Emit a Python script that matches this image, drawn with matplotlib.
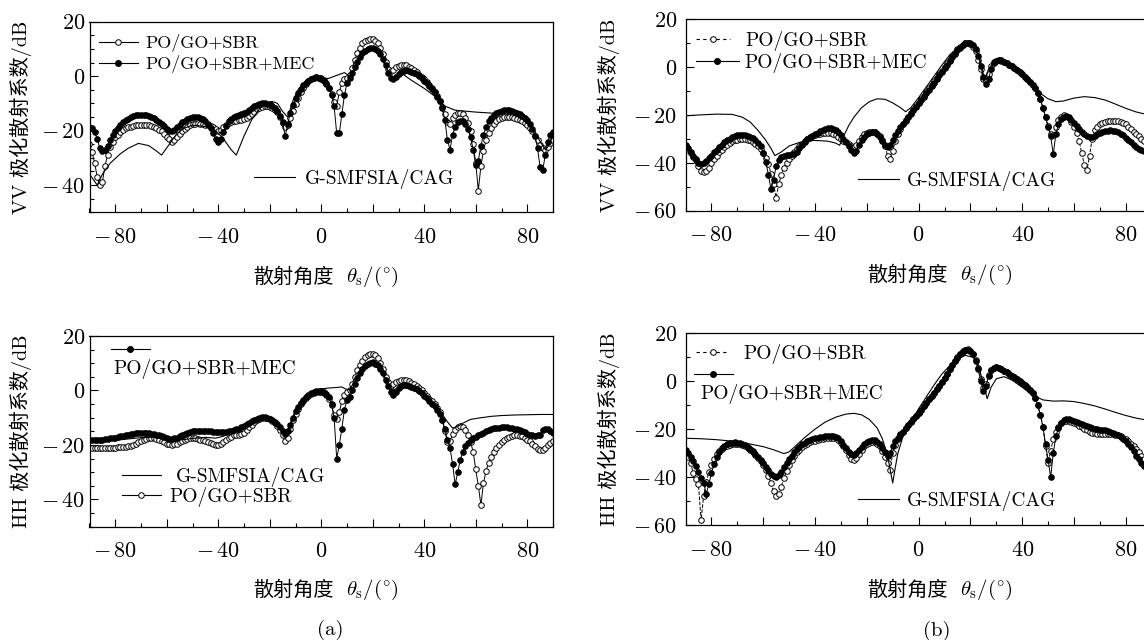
import numpy as np
import matplotlib
matplotlib.use("Agg")
import matplotlib.pyplot as plt
from matplotlib.lines import Line2D
from matplotlib.legend import Legend
from matplotlib.ticker import MultipleLocator, FuncFormatter

plt.rcParams['font.family'] = ['cmr10', 'Noto Sans CJK SC']
plt.rcParams['mathtext.fontset'] = 'cm'

# scattering angle, 1 degree steps
theta = np.arange(-90, 91)

# (a) VV : PO/GO+SBR (open) and PO/GO+SBR+MEC (filled)
vv_a_sbr = [
    -25, -28, -32, -37, -40, -39, -33, -29, -26, -24,
    -22.5, -21.5, -20.5, -19.8, -19.2, -18.8, -18.5, -18.2, -18, -17.9,
    -17.8, -17.8, -17.8, -18, -18.2, -18.5, -19, -19.6, -20.3, -21.2,
    -22.2, -23.2, -24, -23.5, -22.5, -21.3, -20.2, -19.3, -18.6, -18,
    -17.6, -17.4, -17.3, -17.4, -17.6, -17.9, -18.1, -18.3, -18.6, -19.3,
    -20.3, -19.6, -18.6, -17.8, -17.3, -16.8, -16.5, -16.3, -16.2, -16,
    -15.6, -15.2, -14.6, -13.8, -13, -12.2, -11.6, -11.2, -11, -11,
    -11.2, -11.6, -12.3, -13.3, -15, -17.2, -18.8, -18, -15.5, -12.8,
    -10.2, -8, -6, -4.4, -3, -1.9, -1.1, -0.6, -0.4, -0.5,
    -0.8, -1.5, -2.6, -4.2, -6.5, -9.5, -11, -6, -2.5, -1.2,
    -0.8, 0.5, 3, 6, 8.5, 10.5, 12, 12.9, 13.4, 13.6,
    13.5, 13, 12, 10.4, 8, 5.2, 2.8, 1.8, 2.4, 3.3,
    3.9, 4.2, 4.2, 4, 3.5, 2.9, 2.2, 1.4, 0.6, -0.3,
    -1.2, -2.2, -3.3, -4.5, -5.8, -7.3, -9, -11.2, -14, -17,
    -17.5, -15.5, -14.2, -13.5, -13.4, -14, -15.2, -17.2, -20.3, -25,
    -32, -42, -33, -27.5, -23.5, -20.8, -18.9, -17.6, -16.6, -15.9,
    -15.4, -15.1, -15, -15, -15.1, -15.3, -15.6, -16, -16.6, -17.3,
    -18.1, -19.1, -20.3, -21.8, -23.5, -25.2, -26.5, -27, -26, -24.5,
    -23.5]
vv_a_mec = [
    -18.5, -19, -20.5, -23, -26.5, -27.5, -27, -25.5, -23.5, -21.7,
    -20.2, -19, -17.9, -17, -16.2, -15.6, -15.1, -14.7, -14.4, -14.2,
    -14.1, -14.1, -14.2, -14.5, -14.9, -15.4, -16, -16.7, -17.5, -18.4,
    -19.3, -20, -20.2, -19.6, -18.7, -17.8, -17, -16.3, -15.8, -15.4,
    -15.1, -15, -15.1, -15.4, -15.9, -16.6, -17.6, -19, -20.8, -23,
    -24.2, -23, -20.5, -18.2, -16.6, -15.6, -15, -14.6, -14.3, -14,
    -13.6, -13, -12.3, -11.6, -11, -10.5, -10.2, -10, -10, -10.1,
    -10.4, -10.9, -11.7, -12.8, -14.5, -17, -22, -17.5, -13.5, -10.5,
    -8.2, -6.3, -4.7, -3.4, -2.4, -1.6, -1, -0.6, -0.4, -0.5,
    -0.9, -1.6, -2.7, -4.3, -7, -11, -21, -21, -14, -7,
    -2.5, -0.5, 1.3, 3.3, 5.3, 7, 8.4, 9.4, 10.1, 10.4,
    10.4, 10.1, 9.4, 8.2, 6.4, 4, 1.3, -0.8, -1.2, -0.2,
    0.9, 1.6, 2, 2.1, 2, 1.7, 1.2, 0.7, 0, -0.8,
    -1.7, -2.6, -3.6, -4.7, -6, -7.5, -9.3, -11.8, -16, -23.5,
    -27, -21.5, -18.5, -17, -16.4, -16.6, -17.6, -19.5, -22.5, -27,
    -32.5, -31, -25.5, -21.5, -18.6, -16.6, -15.2, -14.2, -13.5, -13,
    -12.7, -12.5, -12.4, -12.5, -12.7, -13, -13.4, -13.9, -14.5, -15.2,
    -16.2, -17.5, -19.3, -22, -26.5, -33.5, -34.5, -29, -24, -21.5,
    -20.5]
vv_a_cag_x = [-90, -87, -85, -82, -78, -75, -71, -67, -64, -62, -59, -56, -53, -50,
              -45, -41, -38, -35, -33, -30, -27, -24, -21, -19, -17, -15, -13, -11,
              -9, -6, -3, 0, 3, 6, 9, 11, 13, 15, 17, 20, 23, 25, 27, 29, 31, 35,
              40, 45, 48, 52, 60, 70, 74, 78, 82, 85, 87, 88, 90]
vv_a_cag = [-36, -40, -36, -32, -28.5, -26.5, -24.7, -25.5, -27.5, -29, -25, -21, -19, -18,
            -18.5, -20, -23, -27, -29, -22, -16, -12, -9.8, -9.3, -10, -13, -15, -9,
            -5, -2, -0.6, -1, -0.8, 0.3, 1.3, 0, 2, 6, 9, 10.3, 8.5, 4, -1, 0.5, 1.2, -1.5,
            -4.5, -8, -11, -12.5, -13.2, -13.8, -14, -15.5, -19, -24, -27, -26, -22]

# (a) HH
hh_a_sbr = [
    -21, -21.1, -21.2, -21.2, -21.2, -21.2, -21.2, -21.1, -21.1, -21,
    -21, -20.9, -20.8, -20.7, -20.6, -20.5, -20.3, -20, -19.5, -19,
    -18.5, -18.1, -17.8, -17.5, -17.4, -17.5, -17.7, -18, -18.5, -19,
    -19.5, -19.8, -20, -19.8, -19.5, -19, -18.5, -18.1, -17.8, -17.6,
    -17.5, -17.6, -17.8, -18, -18.3, -18.6, -19, -19.4, -19.8, -20,
    -20, -19.6, -19, -18.2, -17.5, -17, -16.5, -16.3, -16.2, -16,
    -15.5, -14.5, -13.5, -12.5, -11.5, -10.8, -10.3, -10, -10, -10.2,
    -10.6, -11.2, -12, -13.1, -14.5, -16.5, -18.5, -17.5, -14, -11,
    -8.5, -6.7, -5, -3.8, -2.8, -2, -1.2, -0.8, -0.5, -0.4,
    -0.4, -0.8, -1.5, -3, -5.5, -9, -10.5, -8, -4, -1.5,
    -0.5, 0.3, 2.5, 5, 7.5, 9.5, 11, 12.2, 13, 13.4,
    13.5, 13, 12, 10.2, 8, 5, 3, 1.5, 2.2, 3,
    3.5, 3.9, 4, 3.8, 3.5, 2.9, 2.2, 1.5, 0.8, 0,
    -1, -2, -3, -4, -5, -6.5, -8, -11, -15, -19,
    -18.5, -16, -14.5, -13.5, -13, -13.3, -14.5, -16.5, -19, -22.5,
    -29, -35, -42, -34, -29.5, -26.5, -24.5, -22.5, -21, -20,
    -19, -18.2, -17.5, -17, -16.7, -16.5, -16.5, -16.6, -16.8, -17.3,
    -18, -18.7, -19.5, -20.5, -21.5, -22, -21.8, -21, -20, -19.2,
    -18.5]
hh_a_mec = [
    -18, -18, -18, -18, -18, -18, -17.9, -17.8, -17.6, -17.4,
    -17.3, -17, -16.8, -16.6, -16.4, -16.2, -16, -15.9, -15.7, -15.6,
    -15.5, -15.5, -15.6, -15.7, -15.8, -16, -16.2, -16.5, -16.8, -17.1,
    -17.5, -17.7, -17.8, -17.6, -17.3, -16.8, -16.3, -15.9, -15.5, -15.2,
    -15, -14.9, -14.8, -14.8, -14.8, -14.8, -14.9, -15, -15.1, -15.2,
    -15.3, -15.3, -15.2, -15.1, -15, -14.8, -14.6, -14.3, -14, -13.5,
    -13, -12.4, -11.8, -11.2, -10.7, -10.3, -10, -9.8, -9.8, -10,
    -10.3, -10.8, -11.5, -12.4, -13.5, -15, -16, -15, -12.5, -10,
    -7.5, -5.9, -4.5, -3.4, -2.5, -1.7, -1, -0.6, -0.3, -0.2,
    -0.2, -0.6, -1.2, -2.5, -5, -10, -25, -20, -14, -7,
    -3.5, -2.5, 0, 2.3, 4.5, 6.3, 8, 9.1, 9.8, 10.1,
    10.3, 9.9, 9.2, 8, 6.5, 4, 1.5, -0.5, -1.5, -0.5,
    1, 1.6, 2, 1.9, 1.8, 1.4, 1, 0.4, -0.3, -1.1,
    -2, -2.9, -3.8, -4.8, -5.8, -7, -8.5, -11, -14, -18,
    -21, -27, -34.5, -30, -25.5, -22.5, -20.5, -19.3, -18.3, -17.6,
    -17, -16.5, -16, -15.5, -15, -14.6, -14.2, -13.9, -13.7, -13.6,
    -13.5, -13.5, -13.5, -13.6, -13.8, -14, -14.3, -14.6, -15, -15.4,
    -15.8, -16.2, -16.5, -16.6, -16.5, -16.3, -14.5, -14.2, -14.3, -14.8,
    -15.5]
hh_a_cag_x = [-90, -85, -80, -75, -70, -65, -60, -55, -50, -45, -41, -38, -35, -32, -29,
              -26, -23, -21, -19, -17, -15, -13.5, -12, -10, -8, -6, -4, -2, 0, 3, 6, 8,
              9.5, 11, 13, 15, 17, 19, 21, 23, 25, 27, 28, 30, 32, 35, 38, 41, 44, 47,
              49, 51, 53, 55, 58, 62, 66, 70, 75, 80, 85, 90]
hh_a_cag = [-18.5, -18.5, -18.3, -17.8, -17.3, -17.2, -17.8, -18.2, -17.6, -17.2, -17.5,
            -16.8, -15.6, -14.6, -13.2, -11.4, -10.1, -10, -10.7, -12.3, -14.5, -15.5,
            -13, -8, -4.8, -2.5, -0.9, 0, 0.6, 0.9, 1.1, 1.3, 0.5, 0.3, 3.5, 6.8, 8.8,
            9.6, 9.5, 7.8, 4.3, 0.8, 0.2, 1, 1.3, 0.6, -1, -3, -5.5, -8.8, -11.5, -13.8,
            -13.2, -12, -10.6, -10, -9.5, -9.2, -9, -8.9, -8.8, -8.8]

# (b) VV
vv_b_sbr = [
    -33, -34.5, -36, -37.5, -39, -41.5, -43.5, -44, -43.5, -42,
    -40, -38.5, -37, -35.7, -34.5, -33.4, -32.5, -31.7, -31, -30.6,
    -30.3, -30.1, -30, -30.1, -30.3, -30.7, -31.3, -32, -33, -34.3,
    -36, -37.8, -40.5, -44.5, -49, -54.5, -49, -45, -42, -40,
    -38.5, -37, -35.5, -34.2, -33, -32, -31, -30.2, -29.5, -29,
    -28.5, -28.1, -27.8, -27.6, -27.5, -27.5, -27.5, -27.8, -28.5, -29.4,
    -30, -30.8, -31.5, -32.3, -33, -33.5, -32.5, -30.8, -29.3, -28.2,
    -27.5, -27.1, -27, -27.3, -28, -29, -30.5, -33, -37, -38.5,
    -35, -31, -28, -26, -24, -22.5, -21, -19.5, -18, -16.5,
    -15, -13.5, -12, -10.5, -9, -7.5, -6, -4.5, -3, -1.5,
    0, 1.5, 3, 4.5, 6, 7.3, 8.5, 9.3, 9.9, 10,
    9.5, 8.5, 6.5, 3, -1, -5, -6, -3, 0.5, 2,
    2.6, 2.8, 2.5, 2, 1.5, 0.9, 0.3, -0.4, -1.2, -2.1,
    -3, -4, -5, -6.2, -7.5, -9, -11, -13.5, -17, -21,
    -24.5, -28, -28.5, -25, -22, -20.8, -20.2, -20.5, -21.5, -23,
    -25, -27.5, -31, -36, -41, -43, -37, -30, -26.5, -25,
    -24, -23.5, -23, -22.7, -22.5, -22.4, -22.5, -22.7, -23, -23.5,
    -24, -25, -26, -27, -28, -29, -30, -31, -31.5, -32,
    -32]
vv_b_mec = [
    -32.5, -34, -35.5, -37, -38.5, -40, -40.5, -40, -39.3, -38.2,
    -37, -35.7, -34.5, -33.4, -32.4, -31.5, -30.6, -29.9, -29.3, -28.9,
    -28.6, -28.4, -28.4, -28.5, -28.8, -29.2, -29.8, -30.6, -31.6, -33,
    -36, -39.5, -45, -51, -47, -41.5, -38.8, -37.6, -37, -36.8,
    -36.7, -36.5, -36.2, -35.5, -34, -32.5, -31.2, -30.2, -29.4, -28.7,
    -28, -27.4, -26.8, -26.3, -25.9, -25.6, -25.5, -25.7, -26.3, -27.2,
    -28.5, -30, -31.5, -33, -34.5, -36, -35, -32.5, -30.5, -29.2,
    -28.2, -27.5, -27.2, -27.3, -28, -29.3, -31, -32.5, -33.5, -32.5,
    -30.5, -28.5, -26.8, -25.2, -23.7, -22.2, -20.8, -19.4, -18, -16.6,
    -15.2, -13.8, -12.4, -11, -9.6, -8.1, -6.6, -5.1, -3.5, -2,
    -0.5, 1, 2.5, 4, 5.5, 6.9, 8.1, 9.1, 9.8, 10.1,
    9.8, 9, 7.3, 4.5, 0.5, -4, -7, -5, -1, 1.5,
    2.6, 2.9, 2.7, 2.2, 1.6, 1, 0.3, -0.4, -1.2, -2.1,
    -3, -4, -5, -6.2, -7.5, -9, -11, -13.5, -17, -21,
    -25, -29, -36.5, -28, -24, -21.8, -20.8, -20.6, -21, -22,
    -23.3, -24.7, -26, -27.2, -28.2, -29, -29.3, -29.2, -28.8, -28.2,
    -27.6, -27.1, -26.8, -26.6, -26.5, -26.6, -26.8, -27.2, -27.8, -28.6,
    -29.5, -30.5, -31.5, -32.5, -33.4, -34.2, -34.8, -35, -34.6, -33.8,
    -33]
vv_b_cag_x = [-90, -84, -78, -72, -68, -65, -62, -59, -57, -55.5, -53, -50, -46, -42, -38,
              -35, -32, -30.5, -29, -27, -25, -22, -19, -16, -13, -10, -7, -5, -3, 0, 3,
              6, 9, 12, 15, 18, 20, 22, 24, 25.5, 27, 29, 31, 35, 39, 43, 47, 50, 53, 56,
              60, 64, 68, 72, 76, 80, 84, 88, 90]
vv_b_cag = [-20.4, -20, -19.7, -19.8, -21, -23, -26.5, -30.6, -34, -37, -35.5, -33, -31.5,
            -30.6, -30.8, -31, -31.8, -32.7, -29, -24.5, -21, -17, -14.5, -13.3, -13.5, -15,
            -17, -18.7, -17, -12.8, -8.3, -3.8, 0.8, 5, 8, 10.3, 10, 8, 2, -5.5, -1, 2, 2.8,
            0.5, -2.5, -6.5, -11, -13.3, -14.5, -14.2, -13, -12.4, -12.8, -13.8, -15.5,
            -17.3, -18.8, -19.8, -20.2]

# (b) HH
hh_b_sbr = [
    -30, -31.5, -34, -38.5, -41, -43, -58, -48, -42, -38,
    -35, -32.5, -30.5, -29.2, -28.2, -27.5, -27, -26.6, -26.3, -26.1,
    -26.1, -26.3, -26.7, -27.2, -27.9, -28.7, -29.7, -30.8, -32, -33.4,
    -35, -37, -39.5, -42.5, -46, -47.8, -47, -44, -40.5, -37.5,
    -35, -33, -31.2, -29.7, -28.5, -27.5, -26.6, -26, -25.5, -25.1,
    -24.8, -24.5, -24.2, -24, -23.8, -23.6, -23.5, -23.6, -23.9, -24.6,
    -25.6, -27, -28.8, -30.8, -32.5, -33, -32, -30.3, -28.5, -27.2,
    -26.2, -25.6, -25.3, -25.4, -26, -27.2, -29, -31.5, -34, -37,
    -30, -26.5, -24, -22.3, -21, -19.7, -18.4, -17.1, -15.8, -14.5,
    -13.2, -11.8, -10.4, -9, -7.6, -6.2, -4.8, -3.3, -1.8, -0.2,
    1.5, 3.2, 5, 6.8, 8.5, 10, 11.5, 12.6, 13.2, 13.3,
    12.8, 11.5, 9, 5.5, 1, -3, -1, 2.5, 4.5, 5.5,
    5.8, 5.6, 5.1, 4.4, 3.7, 3, 2.3, 1.6, 0.9, 0.2,
    -0.6, -1.5, -2.5, -3.6, -5, -7, -10, -14, -19, -27,
    -34, -29, -24, -21, -19, -17.5, -16.8, -16.5, -16.6, -17,
    -17.5, -18, -18.6, -19.2, -19.8, -20.4, -21, -21.4, -21.7, -21.9,
    -22, -22, -22, -22, -22, -22.1, -22.3, -22.6, -23, -23.6,
    -24.3, -25.1, -26, -27, -28.2, -29.5, -31, -32.5, -33.8, -35,
    -36]
hh_b_mec = [
    -28.5, -30, -31.5, -33.5, -35.5, -38, -40.5, -42.5, -47, -43,
    -38.5, -34.5, -31.5, -29.5, -28, -27, -26.3, -25.9, -25.6, -25.5,
    -25.6, -25.8, -26.2, -26.7, -27.4, -28.2, -29.2, -30.3, -31.5, -32.8,
    -34.2, -35.7, -37.2, -38.6, -39.6, -40, -39.3, -37.8, -36, -34.2,
    -32.5, -31, -29.6, -28.4, -27.3, -26.4, -25.6, -25, -24.5, -24.2,
    -23.9, -23.6, -23.4, -23.2, -23, -22.9, -22.8, -22.9, -23.2, -23.9,
    -25, -26.5, -28, -29.5, -30.5, -30.7, -30, -28.7, -27.3, -26.2,
    -25.4, -24.9, -24.6, -24.7, -25.2, -26.3, -28, -29.5, -31, -30,
    -27, -25, -23.5, -22.2, -21, -19.7, -18.4, -17.1, -15.8, -14.5,
    -13.2, -11.8, -10.4, -9, -7.6, -6.2, -4.8, -3.3, -1.8, -0.2,
    1.5, 3.2, 4.9, 6.6, 8.3, 9.8, 11.2, 12.3, 12.9, 13,
    12.5, 11.2, 8.6, 5, 0, -4, -2, 2, 4.5, 5.5,
    5.8, 5.6, 5.1, 4.4, 3.7, 3, 2.3, 1.6, 0.9, 0.2,
    -0.6, -1.5, -2.5, -3.6, -5, -7, -10, -14, -19, -26,
    -33, -40, -30, -23, -19.5, -17.5, -16.3, -15.8, -15.7, -16,
    -16.4, -16.9, -17.4, -17.9, -18.4, -18.8, -19.2, -19.5, -19.8, -20,
    -20.2, -20.3, -20.5, -20.7, -21, -21.4, -21.9, -22.5, -23.2, -24,
    -25, -26.2, -27.6, -29.2, -31, -32.5, -34, -35.5, -37, -38.5,
    -40]
hh_b_cag_x = [-90, -84, -78, -72, -66, -60, -56, -52, -50, -47, -44, -40, -36, -32, -28,
              -25, -22, -19, -16, -14, -12, -10, -9, -8, -6, -4, -2, 0, 3, 6, 9, 12, 15,
              18, 21, 23, 24.5, 26.5, 28, 30, 33, 36, 40, 44, 48, 52, 56, 60, 64, 68, 72,
              76, 80, 84, 88, 90]
hh_b_cag = [-23.8, -24, -24.4, -25, -26, -27.3, -28.6, -30.2, -29.5, -26.5, -23.5, -20,
            -17, -15, -13.7, -13.4, -14, -16, -19.5, -24, -31, -42.5, -36, -30, -23, -18.5,
            -15, -11.5, -6.5, -1.5, 3, 6.5, 9.2, 10.8, 10, 7, 1, -7.3, -2.5, 1, 1.9, 0.5,
            -2.5, -5.8, -7.8, -8.3, -8.2, -8.5, -9.3, -10.3, -11.6, -13, -14.3, -15.4,
            -16.2, -16.6]

W, H = 1144, 640
fig = plt.figure(figsize=(W / 100, H / 100), dpi=100)


def box(l, t, r, b):
    return [l / W, 1 - b / H, (r - l) / W, (b - t) / H]


def fx(x):
    return x / W


def fy(y):
    return 1 - y / H


MS = 4.0


def tick_text(v, pos):
    v = int(round(v))
    if v < 0:
        return r'$-\,%d$' % (-v)
    return r'$%d$' % v


def xtick_text(v, pos):
    if int(round(v)) % 40:
        return ''
    return tick_text(v, pos)


def panel(pos, sbr, mec, cx, cy, ylim, sbr_ls, yminor, ypad):
    ax = fig.add_axes(pos)
    ax.plot(theta, sbr, color='k', lw=0.7, ls=sbr_ls, marker='o', ms=MS,
            mfc='white', mec='k', mew=0.7)
    ax.plot(theta, mec, color='k', lw=0.7, marker='o', ms=MS, mfc='k', mec='k', mew=0.7)
    ax.plot(cx, cy, color='k', lw=0.8)
    ax.set_xlim(-90, 90)
    ax.set_ylim(*ylim)
    ax.xaxis.set_major_locator(MultipleLocator(20))
    ax.xaxis.set_minor_locator(MultipleLocator(10))
    ax.yaxis.set_major_locator(MultipleLocator(20))
    ax.yaxis.set_minor_locator(MultipleLocator(yminor))
    ax.tick_params(which='both', direction='in', top=False, right=False, width=0.8)
    ax.tick_params(which='major', length=5.5, labelsize=16)
    ax.tick_params(which='minor', length=3.2)
    ax.tick_params(axis='x', pad=11)
    ax.tick_params(axis='y', pad=ypad)
    ax.xaxis.set_major_formatter(FuncFormatter(xtick_text))
    ax.yaxis.set_major_formatter(FuncFormatter(tick_text))
    for s in ax.spines.values():
        s.set_linewidth(0.9)
    return ax


def key(ax, handle, label, x, y, hl, pad, fs=14):
    leg = Legend(ax, [handle], [label], loc='center left',
                 bbox_to_anchor=(fx(x), fy(y)), bbox_transform=fig.transFigure,
                 frameon=False, borderpad=0, borderaxespad=0, handlelength=hl,
                 handletextpad=pad, numpoints=1,
                 prop={'family': 'cmr10', 'size': fs})
    ax.add_artist(leg)


h_open = Line2D([], [], color='k', lw=0.8, marker='o', ms=MS, mfc='white', mec='k', mew=0.7)
h_open_d = Line2D([], [], color='k', lw=0.8, ls=(0, (3, 3)), marker='o', ms=MS,
                  mfc='white', mec='k', mew=0.7)
h_fill = Line2D([], [], color='k', lw=0.8, marker='o', ms=MS, mfc='k', mec='k')
h_line = Line2D([], [], color='k', lw=0.8)

ax1 = panel(box(89.5, 21.7, 553, 212.3), vv_a_sbr, vv_a_mec, vv_a_cag_x, vv_a_cag,
            (-50, 20), '-', 5, 3)
ax2 = panel(box(685.5, 19, 1151.7, 210.7), vv_b_sbr, vv_b_mec, vv_b_cag_x, vv_b_cag,
            (-60, 20), '--', 10, 6)
ax3 = panel(box(89.5, 336, 553, 526.7), hh_a_sbr, hh_a_mec, hh_a_cag_x, hh_a_cag,
            (-50, 20), '-', 5, 3)
ax4 = panel(box(685.5, 333.3, 1151.7, 525), hh_b_sbr, hh_b_mec, hh_b_cag_x, hh_b_cag,
            (-60, 20), '--', 10, 6)

# legends
key(ax1, h_open, 'PO/GO+SBR', 98.5, 43.3, 2.2, 0.4, 13)
key(ax1, h_fill, 'PO/GO+SBR+MEC', 98.5, 64, 2.2, 0.4, 13)
key(ax1, h_line, 'G-SMFSIA/CAG', 254, 179, 2.1, 0.5)

key(ax2, h_open_d, 'PO/GO+SBR', 696, 41, 1.75, 0.8)
key(ax2, h_fill, 'PO/GO+SBR+MEC', 696, 62.7, 2.2, 0.3)
key(ax2, h_line, 'G-SMFSIA/CAG', 858, 181, 2.1, 0.4)

key(ax3, h_fill, '', 111, 350.7, 2.0, 0.4)
fig.text(fx(113), fy(369), 'PO/GO+SBR+MEC', family='cmr10', fontsize=14, va='center')
key(ax3, h_line, 'G-SMFSIA/CAG', 122, 476.7, 2.0, 0.75)
key(ax3, h_open, 'PO/GO+SBR', 122, 496.7, 2.0, 0.45)

key(ax4, h_open_d, 'PO/GO+SBR', 696, 354, 1.7, 0.75)
key(ax4, h_fill, '', 694, 376, 2.0, 0.4)
fig.text(fx(700), fy(394.3), 'PO/GO+SBR+MEC', family='cmr10', fontsize=14, va='center')
key(ax4, h_line, 'G-SMFSIA/CAG', 858, 501, 2.1, 0.4)

# axis labels
for x, y, pol in [(21, 117, 'VV'), (609, 115, 'VV'), (21, 431, 'HH'), (609, 429, 'HH')]:
    fig.text(fx(x), fy(y), pol + ' 极化散射系数/dB', rotation=90, ha='center', va='center',
             family=['cmr10', 'Noto Sans CJK SC'], fontsize=14.5)

for x, y in [(334, 277), (948, 275), (334, 590), (948, 590)]:
    fig.text(fx(x), fy(y), '散射角度', ha='right', va='center',
             family='Noto Sans CJK SC', fontsize=14.5)
    fig.text(fx(x + 12), fy(y), r'$\theta_{\mathrm{s}}/(^{\circ})$', ha='left', va='center',
             fontsize=15)

fig.text(fx(330), fy(630), '(a)', ha='center', va='center', family='cmr10', fontsize=15)
fig.text(fx(937), fy(631), '(b)', ha='center', va='center', family='cmr10', fontsize=15)

fig.savefig('out.png', dpi=100)
